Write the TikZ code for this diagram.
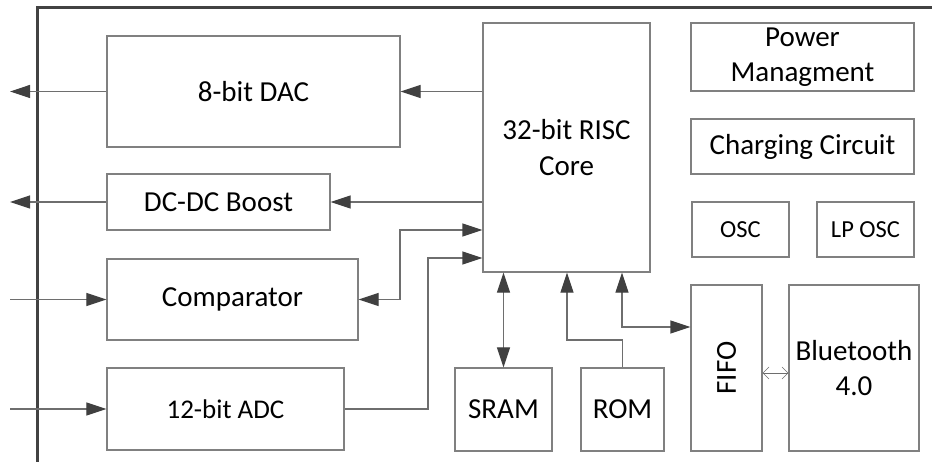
\documentclass[tikz,border=0pt]{standalone}
\usepackage{fontspec}
\usepackage{graphicx}
\setmainfont{Carlito}
\usetikzlibrary{arrows.meta,calc}
\definecolor{frame}{HTML}{424242}
\definecolor{boxline}{HTML}{808080}
\definecolor{wire}{HTML}{6E6E6E}
\definecolor{tipc}{HTML}{404040}
\begin{document}
\begin{tikzpicture}[x=1bp,y=-1bp,
  box/.style={draw=boxline, line width=1.2bp, inner sep=0pt, align=center, text=black,
    font=\fontsize{29bp}{35.4bp}\selectfont},
  smallbox/.style={box, font=\fontsize{24.5bp}{30bp}\selectfont},
  midbox/.style={box, font=\fontsize{27bp}{33bp}\selectfont},
  wireline/.style={draw=wire, line width=1.2bp},
  arr/.style={wireline, -{Triangle[length=20bp,width=13bp,color=tipc]}},
  arrb/.style={wireline, {Triangle[length=20bp,width=13bp,color=tipc]}-{Triangle[length=20bp,width=13bp,color=tipc]}},
  thinarr/.style={draw=wire, line width=0.6bp, {Straight Barb[length=6bp,width=12bp]}-{Straight Barb[length=6bp,width=12bp]}}
]
\useasboundingbox (0,0) rectangle (932,462);

% frame
\draw[frame, line width=3bp] (37.5,462) -- (37.5,8) -- (932,8);

% blocks
\node[box, minimum width=293bp, minimum height=111bp] (dac) at (253.5,91.5) {8-bit DAC};
\node[box, minimum width=223bp, minimum height=56bp] (dcdc) at (218.5,202) {DC-DC Boost};
\node[box, minimum width=251bp, minimum height=81bp] (comp) at (232.5,299.5) {Comparator};
\node[midbox, minimum width=237bp, minimum height=82bp] (adc) at (225.5,409) {12-bit ADC};
\node[box, minimum width=167bp, minimum height=249bp] (core) at (566.5,147.5) {32-bit RISC\\Core};
\node[box, minimum width=97bp, minimum height=83bp] (sram) at (503.5,409.5) {SRAM};
\node[box, minimum width=83bp, minimum height=83bp] (rom) at (622.5,409.5) {ROM};
\node[box, minimum width=71bp, minimum height=166bp] (fifo) at (726.5,368) {\rotatebox{90}{FIFO}};
\node[box, minimum width=130bp, minimum height=166bp] (bt) at (854,368) {Bluetooth\\4.0};
\node[box, minimum width=223bp, minimum height=68bp] (pm) at (802.5,57) {Power\\Managment};
\node[box, minimum width=223bp, minimum height=55bp] (chg) at (802.5,146.5) {Charging Circuit};
\node[smallbox, minimum width=97bp, minimum height=55bp] (osc) at (740.5,229.5) {OSC};
\node[smallbox, minimum width=97bp, minimum height=55bp] (lposc) at (865.5,229.5) {LP OSC};

% free ends and bends
\coordinate (outdac) at (10,91.5);
\coordinate (outdcdc) at (10,202);
\coordinate (incomp) at (10,299.5);
\coordinate (inadc) at (10,409);
\coordinate (kcomp) at (400,230);
\coordinate (kadc) at (428,258);
\coordinate (krom) at (567,340);
\coordinate (kfifo) at (622,327);
\coordinate (kbt) at (0,373);

% connectors
\draw[arr] (core.west |- dac.east) -- (dac.east);
\draw[arr] (dac.west) -- (outdac);
\draw[arr] (core.west |- dcdc.east) -- (dcdc.east);
\draw[arr] (dcdc.west) -- (outdcdc);
\draw[arr] (incomp) -- (comp.west);
\draw[arr] (inadc) -- (adc.west);
\draw[arrb] (comp.east) -| (kcomp) -- (core.west |- kcomp);
\draw[arr] (adc.east) -| (kadc) -- (core.west |- kadc);
\draw[arrb] (sram.north) -- (sram.north |- core.south);
\draw[arr] (rom.north) |- (krom) -- (krom |- core.south);
\draw[arrb] (kfifo |- core.south) -- (kfifo) -- (fifo.west |- kfifo);
\draw[thinarr] (fifo.east |- kbt) -- (bt.west |- kbt);
\end{tikzpicture}
\end{document}
